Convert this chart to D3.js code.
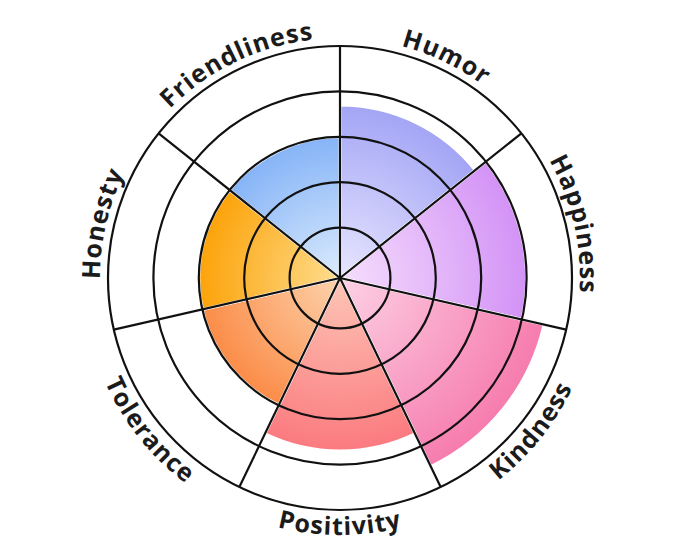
<!DOCTYPE html>
<html>
<head>
<meta charset="utf-8">
<script src="https://cdn.jsdelivr.net/npm/d3@7"></script>
<style>
  html, body { margin: 0; padding: 0; background: #fff; }
  svg { display: block; }
  .label { font-family: "Open Sans", sans-serif; font-weight: 700; font-size: 25px; fill: #1b1b1b; letter-spacing: 1px; }
</style>
</head>
<body>
<div id="chart"></div>
<script>
// clockwise from the top
const categories = ["Humor", "Happiness", "Kindness", "Positivity", "Tolerance", "Honesty", "Friendliness"];
const values = [3.7, 4, 4.5, 3.7, 3, 3, 3];
const ringTicks = [1, 2, 3, 4, 5];
const innerColors = ["#e8e6ff", "#f6defd", "#fdd2e5", "#fdc6b6", "#fdd3ad", "#fedd8e", "#dbebfd"];
const outerColors = ["#a3a5f5", "#d393f6", "#f67cae", "#fb7a7f", "#fb8c48", "#fca30a", "#86b4f7"];

const width = 680, height = 557;
const cx = 340, cy = 278;
const maxR = 232;

const svg = d3.select("#chart").append("svg")
  .attr("width", width)
  .attr("height", height);

const g = svg.append("g").attr("transform", "translate(" + cx + "," + cy + ")");

const r = d3.scaleLinear().domain([0, 5]).range([5, maxR]);
const angle = d3.scaleBand().domain(categories).range([0, 2 * Math.PI]).paddingInner(0).paddingOuter(0);

const data = categories.map((c, i) => ({ name: c, value: values[i], i: i }));

// gradients, one per wedge, light at the centre
const defs = svg.append("defs");
data.forEach(d => {
  const grad = defs.append("radialGradient")
    .attr("id", "grad" + d.i)
    .attr("gradientUnits", "userSpaceOnUse")
    .attr("cx", 0).attr("cy", 0)
    .attr("r", r(d.value));
  grad.append("stop").attr("offset", "0%").attr("stop-color", innerColors[d.i]);
  grad.append("stop").attr("offset", "100%").attr("stop-color", outerColors[d.i]);
});

const arc = d3.arc()
  .innerRadius(0)
  .outerRadius(d => r(d.value))
  .startAngle(d => angle(d.name))
  .endAngle(d => angle(d.name) + angle.bandwidth());

g.selectAll("path.wedge")
  .data(data)
  .join("path")
  .attr("class", "wedge")
  .attr("d", arc)
  .attr("fill", d => "url(#grad" + d.i + ")")
  .attr("stroke", "#fff")
  .attr("stroke-width", 3);

// rings
g.selectAll("circle.ring")
  .data(ringTicks)
  .join("circle")
  .attr("class", "ring")
  .attr("r", d => r(d))
  .attr("fill", "none")
  .attr("stroke", "#111")
  .attr("stroke-width", 2.2);

// spokes
g.selectAll("line.spoke")
  .data(categories)
  .join("line")
  .attr("class", "spoke")
  .attr("x1", 0).attr("y1", 0)
  .attr("x2", d => maxR * Math.sin(angle(d)))
  .attr("y2", d => -maxR * Math.cos(angle(d)))
  .attr("stroke", "#111")
  .attr("stroke-width", 2.2);

// curved labels
const span = Math.PI / 3;
function pt(a, rad) {
  return [rad * Math.sin(a), -rad * Math.cos(a)];
}
data.forEach(d => {
  const mid = angle(d.name) + angle.bandwidth() / 2;
  const top = Math.cos(mid) > 0;
  let p;
  if (top) {
    const rad = maxR + 8;
    const a0 = pt(mid - span, rad), a1 = pt(mid + span, rad);
    p = "M" + a0 + " A" + rad + "," + rad + " 0 0 1 " + a1;
  } else {
    const rad = maxR + 25;
    const a0 = pt(mid + span, rad), a1 = pt(mid - span, rad);
    p = "M" + a0 + " A" + rad + "," + rad + " 0 0 0 " + a1;
  }
  defs.append("path").attr("id", "lp" + d.i).attr("d", p);
  g.append("text")
    .attr("class", "label")
    .append("textPath")
    .attr("href", "#lp" + d.i)
    .attr("startOffset", "50%")
    .attr("text-anchor", "middle")
    .text(d.name);
});
</script>
</body>
</html>
